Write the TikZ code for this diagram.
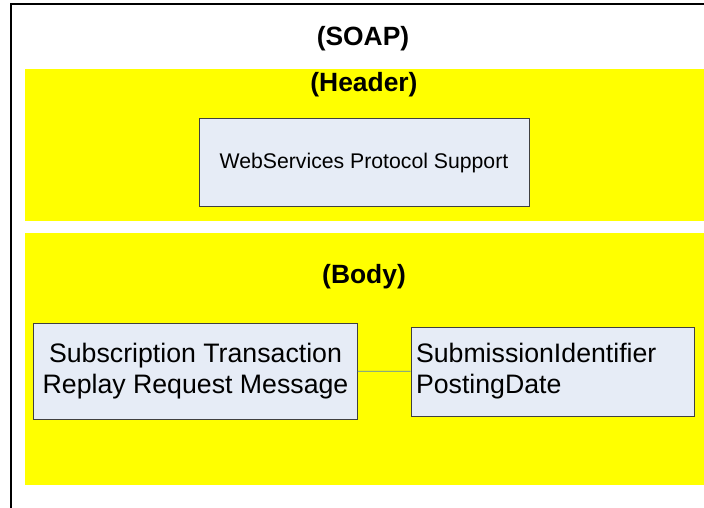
\documentclass[tikz,border=0pt]{standalone}
\usepackage{fontspec}
\setmainfont{Liberation Sans}
\usetikzlibrary{calc}
\definecolor{bandyellow}{RGB}{255,255,0}
\definecolor{boxfill}{RGB}{230,236,246}
\definecolor{linkblue}{RGB}{79,129,189}
\tikzstyle{frame}=[draw=black,line width=2bp]
\tikzstyle{band}=[fill=bandyellow]
\tikzstyle{title}=[font=\bfseries\fontsize{26.5}{30}\selectfont,inner sep=0pt]
\tikzstyle{msgbox}=[rectangle,draw=black!75,line width=1bp,fill=boxfill,inner sep=5bp,font=\fontsize{26.8}{31}\selectfont]
\tikzstyle{link}=[draw=linkblue,line width=0.8bp]

\begin{document}
\begin{tikzpicture}[x=1bp,y=-1bp]
    \useasboundingbox (0,0) rectangle (704,508);
    \clip (0,0) rectangle (704,508);
    % Envelope frame, then the header and body bands
    \draw[frame] (11,4) rectangle (730,540);
    \fill[band] (25,69) rectangle (730,221);
    \fill[band] (25,233) rectangle (730,485);

    % Section titles
    \foreach \pos/ \name/ \txt in {{(363,38.5)/soap/(SOAP)},{(364,85)/header/(Header)},{(364,277)/body/(Body)}}
        \node[title] (\name) at \pos {\txt};

    % Message boxes
    \node[msgbox,minimum width=330bp,minimum height=88bp,font=\fontsize{21.3}{25}\selectfont] (support) at (364,163) {WebServices Protocol Support};
    \node[msgbox,minimum width=323bp,minimum height=96bp,align=center] (request) at (195.5,371) {Subscription Transaction\\Replay Request Message};
    \node[msgbox,text width=273bp,minimum height=89bp,align=left] (fields) at (552.5,371.5) {SubmissionIdentifier\\PostingDate};

    % Connect request to its fields
    \path[link] (request) -- (fields);
\end{tikzpicture}
\end{document}
